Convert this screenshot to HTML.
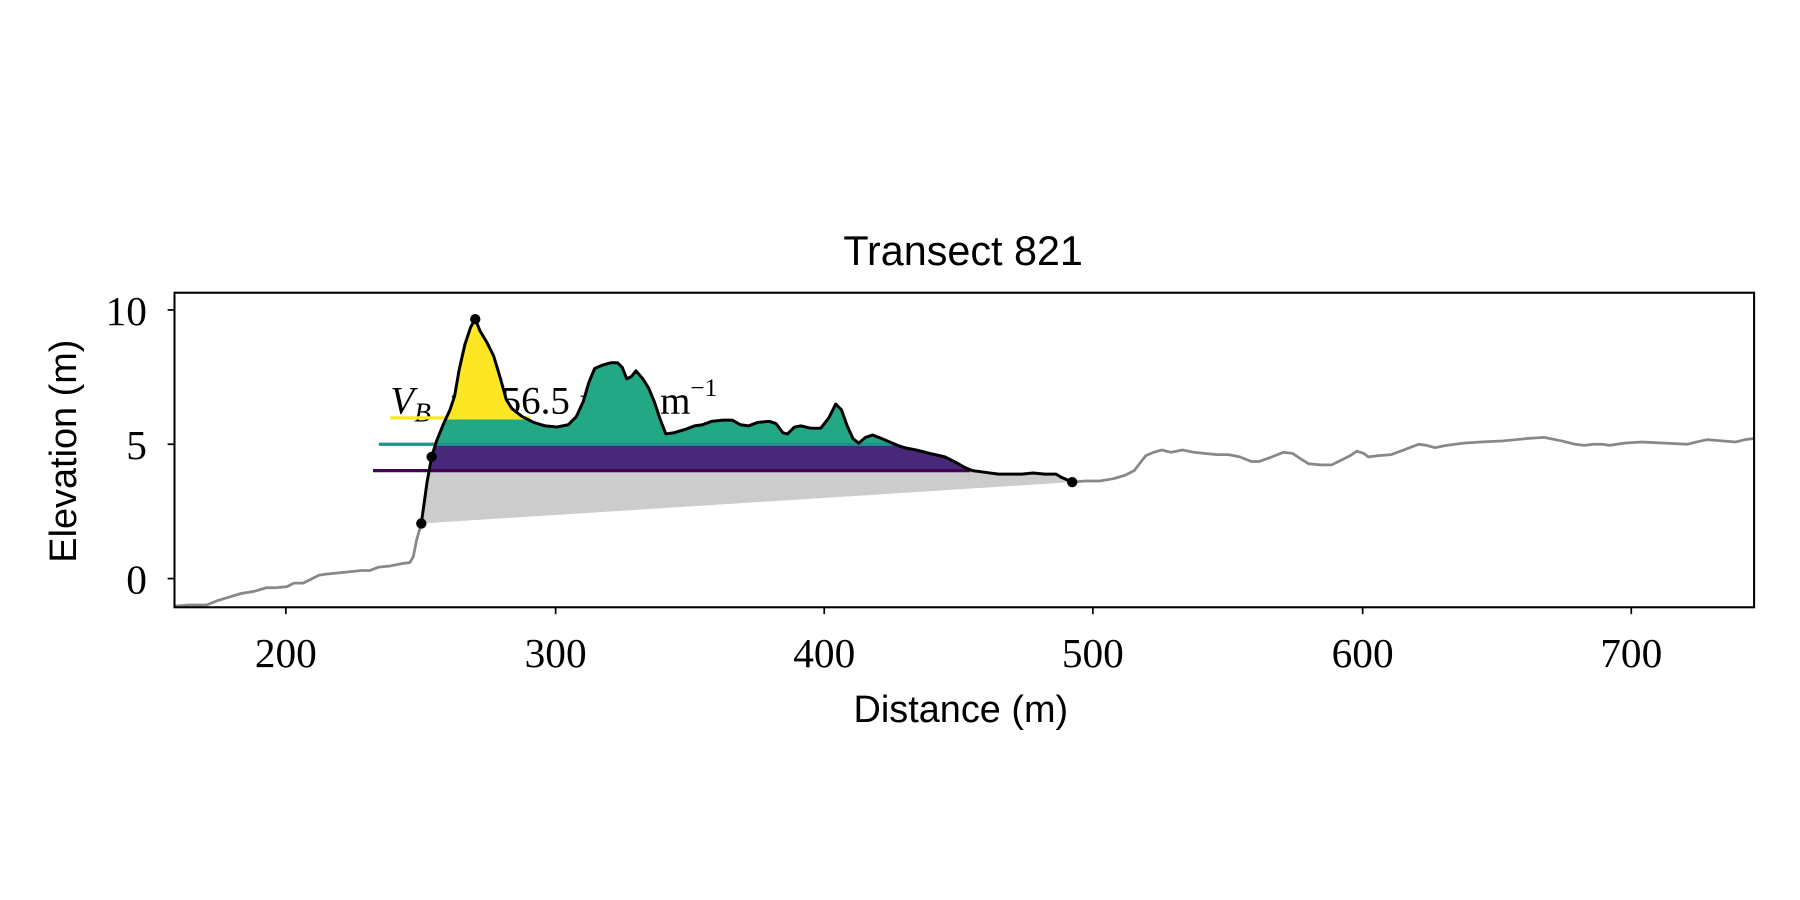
<!DOCTYPE html>
<html><head><style>html,body{margin:0;padding:0;background:#fff}svg{display:block}</style></head>
<body>
<svg width="1800" height="900" viewBox="0 0 1568 784" xmlns="http://www.w3.org/2000/svg">
<defs>
<clipPath id="prof"><polygon points="367,456 372,420 376,398 380,385 386,370 392,357 396,345 400,322 405,300 410,285 414,278 418,288 424,298 430,310 436,330 441,348 446,356 455,363 465,368 475,371 485,372 495,370 502,363 508,350 513,333 518,321 525,318 532,316 538,316 542,320 546,330 550,328 554,323 560,330 565,338 570,350 575,365 580,378 587,377 597,374 605,371 612,370 620,367 630,366 638,366 645,370 652,371 660,368 670,367 676,369 682,377 686,378 692,372 698,371 706,373 715,373 722,364 728,352 733,357 738,371 743,382 748,386 754,381 760,379 768,382 775,385 782,388 788,390 798,392 810,395 823,398 833,403 840,407 847,410 855,411 862,412 870,413 880,413 890,413 900,412 910,413 920,413 925,416 934,420"/></clipPath>
<clipPath id="ax"><rect x="152" y="255" width="1376" height="274"/></clipPath>
</defs>
<text x="839" y="231" font-family="Liberation Sans, sans-serif" font-size="36" text-anchor="middle">Transect 821</text>
<text y="360" font-family="Liberation Serif, serif" font-size="34"><tspan x="340" font-style="italic">V</tspan><tspan font-style="italic" font-size="24" dy="7">B</tspan><tspan x="392" dy="-7">=</tspan><tspan x="437">56.5</tspan><tspan x="505">m</tspan><tspan font-size="22" dy="-13">3</tspan><tspan x="575" dy="13">m</tspan><tspan font-size="22" dy="-15">−1</tspan></text>
<g clip-path="url(#prof)">
<rect x="360" y="410" width="600" height="60" fill="#cccccc"/>
<rect x="360" y="387" width="600" height="23" fill="#482878"/>
<rect x="360" y="250" width="600" height="137" fill="#22a884"/>
<rect x="360" y="250" width="105" height="114" fill="#fde725"/>
</g>
<line x1="340" y1="364" x2="462" y2="364" stroke="#fde725" stroke-width="2.8"/>
<line x1="330" y1="387" x2="778" y2="387" stroke="#21918c" stroke-width="2.8"/>
<line x1="325" y1="410" x2="845" y2="410" stroke="#440154" stroke-width="2.8"/>
<g clip-path="url(#ax)" fill="none" stroke-linejoin="round">
<polyline stroke="#888" stroke-width="2.4" points="152,528 165,527 180,527 190,523 200,520 210,517 222,515 232,512 240,512 250,511 256,508 264,508 270,505 278,501 285,500 295,499 305,498 315,497 322,497 330,494 340,493 350,491 357,490 360,485 363,470 367,456"/>
<polyline stroke="#888" stroke-width="2.4" points="934,420 945,419 958,419 970,417 980,414 988,410 998,397 1005,394 1012,392 1020,394 1030,392 1040,394 1050,395 1060,396 1070,396 1080,398 1090,402 1097,402 1108,398 1118,394 1126,395 1132,399 1140,404 1150,405 1160,405 1166,402 1170,400 1176,397 1182,393 1188,395 1192,398 1200,397 1212,396 1220,393 1228,390 1236,387 1243,388 1250,390 1260,388 1275,386 1290,385 1310,384 1330,382 1345,381 1360,384 1372,387 1380,388 1388,387 1396,387 1402,388 1415,386 1430,385 1450,386 1470,387 1478,385 1487,383 1500,384 1512,385 1520,383 1528,382"/>
<polyline stroke="#000" stroke-width="2.6" points="367,456 372,420 376,398 380,385 386,370 392,357 396,345 400,322 405,300 410,285 414,278 418,288 424,298 430,310 436,330 441,348 446,356 455,363 465,368 475,371 485,372 495,370 502,363 508,350 513,333 518,321 525,318 532,316 538,316 542,320 546,330 550,328 554,323 560,330 565,338 570,350 575,365 580,378 587,377 597,374 605,371 612,370 620,367 630,366 638,366 645,370 652,371 660,368 670,367 676,369 682,377 686,378 692,372 698,371 706,373 715,373 722,364 728,352 733,357 738,371 743,382 748,386 754,381 760,379 768,382 775,385 782,388 788,390 798,392 810,395 823,398 833,403 840,407 847,410 855,411 862,412 870,413 880,413 890,413 900,412 910,413 920,413 925,416 934,420"/>
</g>
<g fill="#000"><circle cx="367" cy="456" r="4.5"/><circle cx="376" cy="398" r="4.5"/><circle cx="414" cy="278" r="4.5"/><circle cx="934" cy="420" r="4.5"/></g>
<rect x="152" y="255" width="1376" height="274" fill="none" stroke="#000" stroke-width="1.8"/>
<g stroke="#000" stroke-width="1.5">
<line x1="249" y1="529" x2="249" y2="535"/><line x1="484" y1="529" x2="484" y2="535"/><line x1="718" y1="529" x2="718" y2="535"/><line x1="952" y1="529" x2="952" y2="535"/><line x1="1187" y1="529" x2="1187" y2="535"/><line x1="1421" y1="529" x2="1421" y2="535"/>
<line x1="146" y1="270" x2="152" y2="270"/><line x1="146" y1="387" x2="152" y2="387"/><line x1="146" y1="504" x2="152" y2="504"/>
</g>
<g font-family="Liberation Serif, serif" font-size="36" text-anchor="middle">
<text x="249" y="581">200</text><text x="484" y="581">300</text><text x="718" y="581">400</text><text x="952" y="581">500</text><text x="1187" y="581">600</text><text x="1421" y="581">700</text>
</g>
<g font-family="Liberation Serif, serif" font-size="36" text-anchor="end">
<text x="128" y="283">10</text><text x="128" y="400">5</text><text x="128" y="517">0</text>
</g>
<text x="837" y="629" font-family="Liberation Sans, sans-serif" font-size="33" text-anchor="middle">Distance (m)</text>
<text transform="translate(66,393) rotate(-90)" font-family="Liberation Sans, sans-serif" font-size="33" text-anchor="middle">Elevation (m)</text>
</svg>
</body></html>
